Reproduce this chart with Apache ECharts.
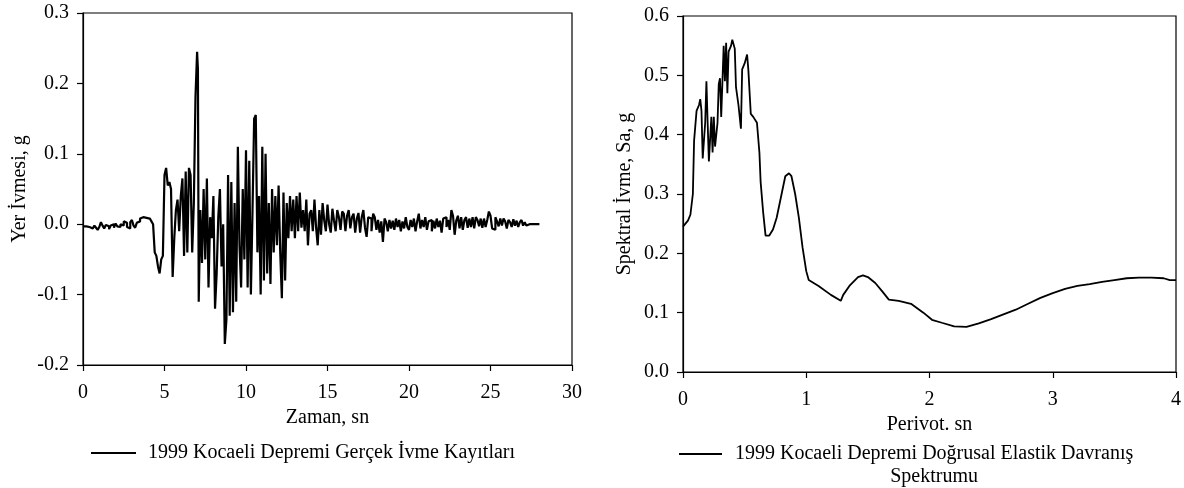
<!DOCTYPE html>
<html>
<head>
<meta charset="utf-8">
<script src="https://cdn.jsdelivr.net/npm/echarts@6/dist/echarts.min.js"></script>
<style>
  html, body { margin: 0; padding: 0; background: #fff; }
  #chart { width: 1184px; height: 488px; }
</style>
</head>
<body>
<div id="chart"></div>
<script>
// time history of ground acceleration (s, g)
const accelTime = [
  0.0, 0.1, 0.2, 0.3, 0.4, 0.5, 0.6, 0.7, 0.8, 0.9, 1.0, 1.1, 1.2, 1.3, 1.4, 1.5, 1.6, 1.7, 1.8, 1.9,
  2.0, 2.1, 2.2, 2.3, 2.4, 2.5, 2.6, 2.7, 2.8, 2.9, 3.0, 3.1, 3.2, 3.3, 3.4, 3.5, 3.6, 3.7, 3.8, 3.9,
  4.0, 4.1, 4.2,
  4.3, 4.4, 4.5, 4.6, 4.7, 4.8, 4.9, 5.0, 5.1, 5.2, 5.3, 5.4, 5.5, 5.6, 5.7, 5.8, 5.9,
  6.0, 6.1, 6.2, 6.3, 6.4, 6.5, 6.6, 6.7, 6.8, 6.9, 7.0, 7.05, 7.1, 7.2, 7.3, 7.4, 7.5, 7.6, 7.7, 7.8, 7.9,
  8.0, 8.1, 8.2, 8.3, 8.4, 8.5, 8.6, 8.7, 8.8, 8.9, 9.0, 9.1, 9.2, 9.3, 9.4, 9.5, 9.6, 9.7, 9.8, 9.9,
  10.0, 10.1, 10.2, 10.3, 10.4, 10.5, 10.6, 10.7, 10.8, 10.9, 11.0, 11.1, 11.2, 11.3, 11.4, 11.5, 11.6, 11.7, 11.8, 11.9,
  12.0, 12.1, 12.2, 12.3, 12.4, 12.5, 12.6, 12.7, 12.8, 12.9, 13.0, 13.1, 13.2, 13.3, 13.4, 13.5, 13.6, 13.7, 13.8, 13.9,
  14.0, 14.1, 14.2, 14.3, 14.4, 14.5, 14.6, 14.7, 14.8, 14.9, 15.0, 15.1, 15.2, 15.3, 15.4, 15.5, 15.6, 15.7, 15.8, 15.9,
  16.0, 16.1, 16.2, 16.3, 16.4, 16.5, 16.6, 16.7, 16.8, 16.9, 17.0, 17.1, 17.2, 17.3, 17.4, 17.5, 17.6, 17.7, 17.8, 17.9,
  18.0, 18.1, 18.2, 18.3, 18.4, 18.5, 18.6, 18.7, 18.8, 18.9, 19.0, 19.1, 19.2, 19.3, 19.4, 19.5, 19.6, 19.7, 19.8, 19.9,
  20.0, 20.1, 20.2, 20.3, 20.4, 20.5, 20.6, 20.7, 20.8, 20.9, 21.0, 21.1, 21.2, 21.3, 21.4, 21.5, 21.6, 21.7, 21.8, 21.9,
  22.0, 22.1, 22.2, 22.3, 22.4, 22.5, 22.6, 22.7, 22.8, 22.9, 23.0, 23.1, 23.2, 23.3, 23.4, 23.5, 23.6, 23.7, 23.8, 23.9,
  24.0, 24.1, 24.2, 24.3, 24.4, 24.5, 24.6, 24.7, 24.8, 24.9, 25.0, 25.1, 25.2, 25.3, 25.4, 25.5, 25.6, 25.7, 25.8, 25.9,
  26.0, 26.1, 26.2, 26.3, 26.4, 26.5, 26.6, 26.7, 26.8, 26.9, 27.0, 27.1, 27.2, 27.3, 27.4, 27.5, 27.6, 27.7, 27.8, 27.9,
  28.0
];
const accelValue = [
  -0.003, -0.003, -0.002, -0.004, -0.003, -0.006, -0.004, -0.002, -0.005, -0.008,
  -0.004, 0.003, -0.002, -0.006, -0.001, -0.003, -0.007, -0.002, 0.0, -0.005,
  0.001, -0.003, -0.004, 0.0, -0.002, 0.004, 0.002, -0.004, -0.006, 0.003,
  0.006, -0.002, -0.005, 0.002, 0.004, 0.008, 0.010, 0.011, 0.009, 0.011,
  0.008, 0.010, 0.004,
  0.0, -0.04, -0.045, -0.06, -0.07, -0.05, -0.045, 0.07, 0.08, 0.055, 0.06, 0.05, -0.075, -0.02, 0.02, 0.035, -0.01,
  0.04, 0.065, -0.045, 0.075, -0.04, 0.08, 0.07, -0.04, 0.03, 0.18, 0.245, 0.22, -0.11, 0.02, -0.055, 0.05, -0.05, 0.065, -0.09, 0.01, -0.02,
  0.04, -0.12, -0.07, 0.01, 0.05, -0.06, 0.0, -0.17, -0.135, 0.07, -0.13, 0.06, -0.125, 0.03, -0.11, 0.11, -0.03, -0.09, 0.05, -0.05,
  0.105, -0.09, 0.09, -0.1, 0.02, 0.15, 0.155, -0.04, 0.04, -0.1, 0.11, -0.08, 0.1, -0.07, 0.03, -0.085, 0.05, -0.04, 0.04, -0.03,
  0.055, -0.04, -0.105, 0.045, -0.08, 0.03, -0.02, 0.04, -0.01, 0.035, -0.02, 0.04, -0.01, 0.045, -0.005, 0.02, -0.01, 0.035, -0.03, 0.015,
  0.02, -0.01, 0.035, -0.005, -0.03, 0.02, -0.015, 0.03, 0.005, -0.01,
  0.028, 0.0, -0.012, 0.022, 0.005, -0.01, 0.02, 0.01, -0.008, 0.018,
  0.015, -0.01, 0.012, 0.02, -0.006, 0.01, 0.015, -0.012, 0.008, 0.016,
  -0.012, 0.01, 0.02, -0.005, -0.018, 0.01, 0.008, -0.01, 0.015, 0.01,
  -0.008, 0.006, -0.012, 0.004, -0.025, 0.008, 0.003, -0.01, 0.006, -0.006,
  0.005, -0.008, 0.008, -0.004, 0.006, -0.01, 0.004, -0.006, 0.01, -0.004,
  -0.008, 0.006, -0.004, 0.008, -0.01, 0.004, 0.015, -0.006, 0.006, -0.004,
  0.01, -0.008, 0.004, 0.006, -0.01, 0.005, -0.006, 0.008, -0.004, 0.005,
  -0.012, 0.008, 0.01, -0.004, 0.006, -0.008, 0.02, 0.012, -0.015, 0.005,
  0.012, -0.006, 0.01, -0.008, 0.006, 0.01, -0.005, 0.008, -0.004, 0.01,
  -0.006, 0.01, 0.006, -0.003, 0.008, -0.005, 0.008, -0.004, 0.006, 0.018,
  0.012, -0.006, -0.008, 0.01, 0.004, -0.003, 0.008, -0.002, 0.008, 0.004,
  -0.006, 0.006, 0.003, -0.004, 0.007, -0.002, 0.005, -0.004, 0.003, 0.006,
  -0.002, 0.003, -0.002, 0.0, -0.001, 0.0, 0.001, 0.0, 0.0, 0.0,
  0.0
];

// elastic response spectrum (period s, Sa g)
const specPeriod = [
  0.0, 0.02, 0.04, 0.06, 0.08, 0.09, 0.11, 0.13, 0.14, 0.15, 0.16, 0.18, 0.19, 0.20, 0.21, 0.23, 0.24, 0.25, 0.26, 0.28,
  0.29, 0.30, 0.31, 0.33, 0.34, 0.35, 0.36, 0.37, 0.39, 0.40, 0.42, 0.43, 0.45, 0.47, 0.48, 0.50, 0.52, 0.53, 0.55, 0.57,
  0.60, 0.62, 0.63, 0.65, 0.67, 0.70, 0.73, 0.76, 0.80, 0.83, 0.86, 0.88, 0.91, 0.94, 0.97, 1.00, 1.02, 1.10, 1.20, 1.28,
  1.30, 1.35, 1.42, 1.46, 1.50, 1.56, 1.62, 1.67, 1.75, 1.85, 1.95, 2.02, 2.10, 2.20, 2.30, 2.40, 2.50, 2.60, 2.70, 2.80,
  2.90, 3.00, 3.10, 3.20, 3.30, 3.40, 3.50, 3.60, 3.70, 3.80, 3.90, 3.95, 4.00
];
const specValue = [
  0.245, 0.25, 0.255, 0.265, 0.30, 0.39, 0.44, 0.45, 0.46, 0.44, 0.36, 0.42, 0.49, 0.42, 0.355, 0.43, 0.37, 0.43, 0.38, 0.42,
  0.485, 0.495, 0.43, 0.55, 0.49, 0.555, 0.47, 0.54, 0.55, 0.56, 0.545, 0.48, 0.45, 0.41, 0.51, 0.52, 0.535, 0.51, 0.435, 0.43,
  0.42, 0.37, 0.32, 0.27, 0.23, 0.23, 0.24, 0.26, 0.30, 0.33, 0.335, 0.33, 0.30, 0.26, 0.21, 0.17, 0.155, 0.145, 0.13, 0.12,
  0.13, 0.145, 0.16, 0.163, 0.16, 0.15, 0.135, 0.122, 0.12, 0.115, 0.10, 0.088, 0.083, 0.077, 0.076, 0.082, 0.089, 0.097, 0.105, 0.115,
  0.125, 0.133, 0.14, 0.145, 0.148, 0.152, 0.155, 0.158, 0.159, 0.159, 0.158, 0.155, 0.155
];

const accelName = '1999 Kocaeli Depremi Gerçek İvme Kayıtları';
const specName = '1999 Kocaeli Depremi Doğrusal Elastik Davranış';
const specNameLine2 = 'Spektrumu';

const font = 'Liberation Serif';
const txt = { fontFamily: font, fontSize: 20, color: '#000' };

function axisCommon() {
  return {
    axisLine: { show: true, onZero: false, lineStyle: { color: '#000', width: 1.2 } },
    axisTick: { show: true, inside: false, length: 6, lineStyle: { color: '#000', width: 1.2 } },
    splitLine: { show: false },
    axisLabel: Object.assign({ margin: 18 }, txt),
    nameTextStyle: txt
  };
}

const chart = echarts.init(document.getElementById('chart'));

chart.setOption({
  animation: false,
  backgroundColor: '#fff',
  grid: [
    { left: 83, top: 13, width: 489, height: 352, show: true, borderColor: '#000', borderWidth: 1.2 },
    { left: 683, top: 16, width: 494, height: 356, show: true, borderColor: '#000', borderWidth: 1.2 }
  ],
  xAxis: [
    Object.assign(axisCommon(), {
      type: 'value', gridIndex: 0, min: 0, max: 30, interval: 5,
      name: 'Zaman, sn', nameLocation: 'middle', nameGap: 40
    }),
    Object.assign(axisCommon(), {
      type: 'value', gridIndex: 1, min: 0, max: 4, interval: 1,
      name: 'Perivot. sn', nameLocation: 'middle', nameGap: 36
    })
  ],
  yAxis: [
    Object.assign(axisCommon(), {
      type: 'value', gridIndex: 0, min: -0.2, max: 0.3, interval: 0.1,
      name: 'Yer İvmesi, g', nameLocation: 'middle', nameGap: 53,
      axisLabel: Object.assign({ margin: 14, formatter: v => v.toFixed(1) }, txt)
    }),
    Object.assign(axisCommon(), {
      type: 'value', gridIndex: 1, min: 0, max: 0.6, interval: 0.1,
      name: 'Spektral İvme, Sa, g', nameLocation: 'middle', nameGap: 48,
      axisLabel: Object.assign({ margin: 14, formatter: v => v.toFixed(1) }, txt)
    })
  ],
  legend: [
    {
      data: [accelName],
      left: 86, top: 438,
      icon: 'rect', itemWidth: 45, itemHeight: 2,
      textStyle: Object.assign({ padding: [0, 0, 0, 7] }, txt)
    },
    {
      data: [specName],
      left: 674, top: 439,
      icon: 'rect', itemWidth: 43, itemHeight: 2,
      formatter: name => '{a|' + name + '}\n{b|' + specNameLine2 + '}',
      textStyle: Object.assign({
        padding: [23, 0, 0, 8],
        rich: {
          a: { fontFamily: font, fontSize: 20, color: '#000', lineHeight: 23 },
          b: { fontFamily: font, fontSize: 20, color: '#000', lineHeight: 23, align: 'center' }
        }
      }, txt)
    }
  ],
  series: [
    {
      name: accelName, type: 'line', xAxisIndex: 0, yAxisIndex: 0,
      step: 'end', symbol: 'none', silent: true,
      itemStyle: { color: '#000' },
      lineStyle: { color: '#000', width: 2.2 },
      data: accelTime.map((t, i) => [t, accelValue[i]])
    },
    {
      name: specName, type: 'line', xAxisIndex: 1, yAxisIndex: 1,
      symbol: 'none', silent: true,
      itemStyle: { color: '#000' },
      lineStyle: { color: '#000', width: 1.8 },
      data: specPeriod.map((t, i) => [t, specValue[i]])
    }
  ]
});
</script>
</body>
</html>
